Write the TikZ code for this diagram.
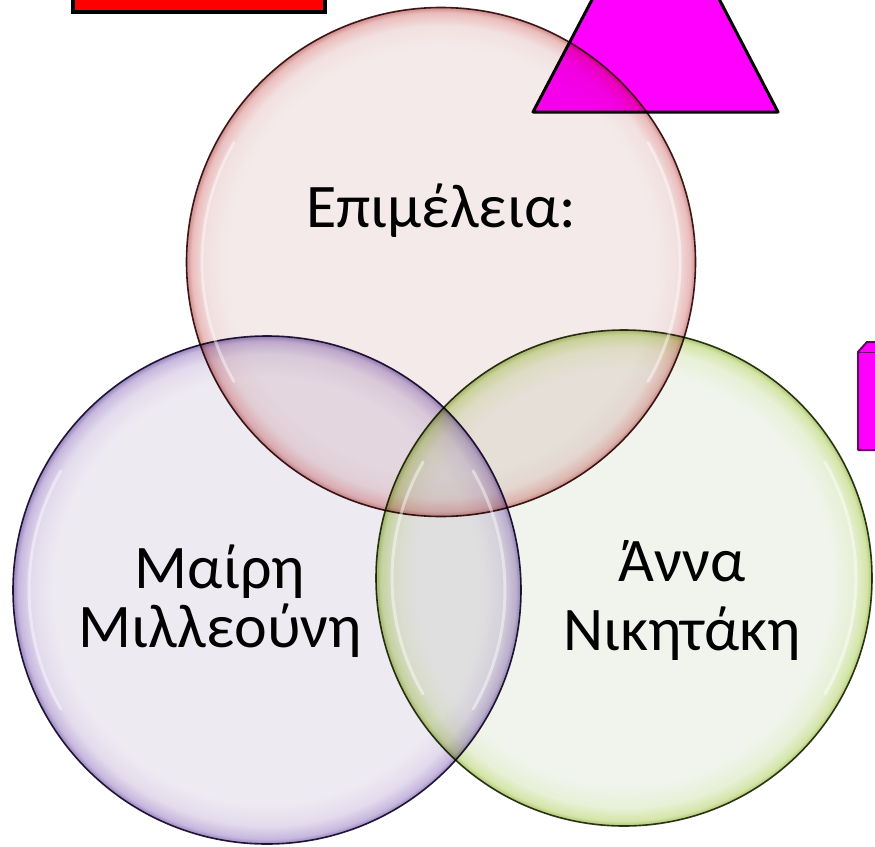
\documentclass[tikz,border=0pt]{standalone}
\usepackage{fontspec}
\setmainfont{Carlito}
\usetikzlibrary{calc}
\pgfdeclareradialshading{pinkbubble}{\pgfpoint{0bp}{0bp}}{rgb(0bp)=(0.957,0.918,0.918); rgb(21bp)=(0.957,0.918,0.918); rgb(23.2bp)=(0.95,0.88,0.88); rgb(24.5bp)=(0.92,0.74,0.74); rgb(25bp)=(0.80,0.55,0.55); rgb(50bp)=(0.80,0.55,0.55)}
\pgfdeclareradialshading{purplebubble}{\pgfpoint{0bp}{0bp}}{rgb(0bp)=(0.933,0.918,0.949); rgb(21bp)=(0.933,0.918,0.949); rgb(23.2bp)=(0.89,0.86,0.93); rgb(24.5bp)=(0.78,0.72,0.87); rgb(25bp)=(0.60,0.52,0.74); rgb(50bp)=(0.60,0.52,0.74)}
\pgfdeclareradialshading{greenbubble}{\pgfpoint{0bp}{0bp}}{rgb(0bp)=(0.941,0.957,0.925); rgb(21bp)=(0.941,0.957,0.925); rgb(23.2bp)=(0.91,0.94,0.84); rgb(24.5bp)=(0.83,0.90,0.66); rgb(25bp)=(0.68,0.77,0.46); rgb(50bp)=(0.68,0.77,0.46)}
\definecolor{pinkline}{RGB}{70,30,30}
\definecolor{purpleline}{RGB}{40,30,65}
\definecolor{greenline}{RGB}{50,60,25}
\definecolor{magentafill}{RGB}{255,0,255}
\tikzset{
  bubble/.style={circle, inner sep=0pt, outer sep=0pt, shade, blend mode=multiply, line width=1.6pt},
  glint/.style={white, line width=3pt, opacity=0.45, line cap=round},
  lbl/.style={font=\fontsize{62}{66}\selectfont, inner sep=0pt, text=black},
  redbox/.style={fill=red, draw=black, line width=3.5pt},
  magshape/.style={fill=magentafill, draw=black, line width=3pt, line join=round},
}
\begin{document}
\begin{tikzpicture}[x=1pt,y=-1pt]
\useasboundingbox (0,0) rectangle (875,846);
\clip (0,0) rectangle (875,846);
\fill[white] (0,0) rectangle (875,846);
% background shapes
\draw[redbox] (73,-40) rectangle (325,12);
\draw[magshape] (656,-122) -- (533,112) -- (778,112) -- cycle;
\draw[magshape, draw=black!60!magentafill, line width=2pt] (858,352) -- (867,342) -- (890,342) -- (890,450) -- (858,450) -- cycle;
\draw[black!60!magentafill, line width=1pt] (858,352) -- (890,352);
% bubbles
\node[bubble, shading=pinkbubble, draw=pinkline, minimum size=509pt] (top) at (441,262) {};
\node[bubble, shading=purplebubble, draw=purpleline, minimum size=508pt] (left) at (267,590) {};
\node[bubble, shading=greenbubble, draw=greenline, minimum size=496pt] (right) at (624,578) {};
% glints
\draw[glint] ($(top.center)+(150:239pt)$) arc[start angle=150, end angle=210, radius=239pt];
\draw[glint] ($(top.center)+(-30:239pt)$) arc[start angle=-30, end angle=30, radius=239pt];
\draw[glint] ($(left.center)+(150:238pt)$) arc[start angle=150, end angle=210, radius=238pt];
\draw[glint] ($(left.center)+(-30:238pt)$) arc[start angle=-30, end angle=30, radius=238pt];
\draw[glint] ($(right.center)+(150:232pt)$) arc[start angle=150, end angle=210, radius=232pt];
\draw[glint] ($(right.center)+(-30:232pt)$) arc[start angle=-30, end angle=30, radius=232pt];
% labels
\node[lbl, anchor=base] (t1) at (441,227) {Επιμέλεια:};
\node[lbl, anchor=base] (m1) at (220,588) {Μαίρη};
\node[lbl, anchor=base] (m2) at (220,647) {Μιλλεούνη};
\node[lbl, anchor=base] (a1) at (682,581) {Άννα};
\node[lbl, anchor=base] (a2) at (682,650) {Νικητάκη};
\end{tikzpicture}
\end{document}
